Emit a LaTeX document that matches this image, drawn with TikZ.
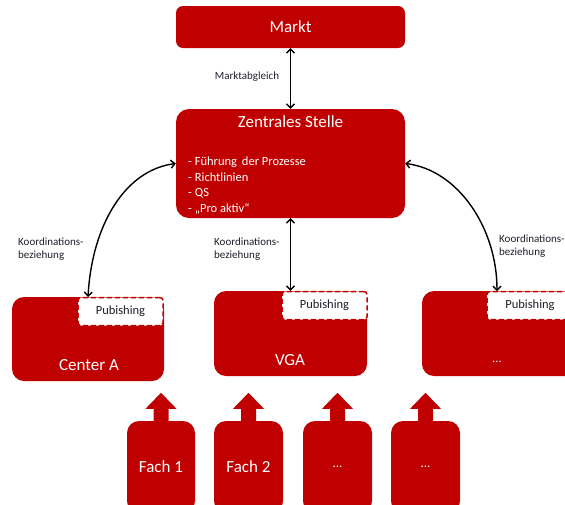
\documentclass[tikz,border=0pt]{standalone}
\usepackage{fontspec}
\setmainfont{Carlito}
\usetikzlibrary{arrows.meta}
\definecolor{dred}{HTML}{C00000}
\definecolor{lbl}{HTML}{1E1E2A}
\tikzset{
  redbox/.style={draw=none, fill=dred, text=white, inner sep=0pt},
  pubbox/.style={draw=dred, fill=white, dashed, dash pattern=on 5pt off 3pt, line width=1.5pt, rounded corners=3pt, inner sep=0pt, minimum height=28pt, text=lbl, font=\fontsize{12.5}{14}\selectfont},
  conn/.style={line width=1.4pt, {Straight Barb[length=4pt,width=8pt]}-{Straight Barb[length=4pt,width=8pt]}},
  lab/.style={text=lbl, font=\fontsize{11}{12.5}\selectfont, align=left, inner sep=0pt},
  big/.style={font=\fontsize{17}{20}\selectfont},
}
\begin{document}
\begin{tikzpicture}[x=1pt,y=-1pt]
\useasboundingbox (0,0) rectangle (565,504);
\clip (0,0) rectangle (565,504);
% top
\node[redbox, rounded corners=7pt, minimum width=229pt, minimum height=42pt, big] (markt) at (290.5,27) {Markt};
\node[redbox, rounded corners=13pt, minimum width=229pt, minimum height=109pt] (zs) at (290.5,163.5) {};
\node[text=white, big, inner sep=0pt] (zstitle) at (290.5,122) {Zentrales Stelle};
\node[text=white, font=\fontsize{12.5}{15.5}\selectfont, align=left, inner sep=0pt, anchor=west] (zslist) at (188,185.5) {- Führung\, der Prozesse\\- Richtlinien\\- QS\\- „Pro aktiv“};
% middle boxes
\node[redbox, rounded corners=12pt, minimum width=152pt, minimum height=84pt] (ca) at (88,339) {};
\node[pubbox, minimum width=85pt] (pubA) at (120.5,311.5) {Pubishing};
\node[text=white, big, inner sep=0pt] (caT) at (89,365) {Center A};

\node[redbox, rounded corners=12pt, minimum width=153pt, minimum height=85pt] (vga) at (290.5,333.5) {};
\node[pubbox, minimum width=85pt] (pubV) at (324.5,305.5) {Pubishing};
\node[text=white, big, inner sep=0pt] (vgaT) at (290,360) {VGA};

\node[redbox, rounded corners=12pt, minimum width=178pt, minimum height=85pt] (rb) at (511,333.5) {};
\node[pubbox, minimum width=86pt] (pubR) at (530,305.5) {Pubishing};
\node[text=white, font=\fontsize{12}{14}\selectfont, inner sep=0pt] (rbT) at (497,362) {...};
\coordinate (rtip) at (497,291);
\coordinate (ltip) at (88,297);

% connectors
\draw[conn] (markt.south) -- (zs.north);
\node[lab] (l0) at (247,77) {Marktabgleich};
\draw[conn] (zs.south) -- (vga.north);
\draw[conn] (zs.west) .. controls (125,170) and (92,225) .. (ltip);
\draw[conn] (zs.east) .. controls (458,170) and (497,228) .. (rtip);
\node[lab, anchor=west] (l1) at (18,249) {Koordinations-\\beziehung};
\node[lab, anchor=west] (l2) at (214,249) {Koordinations-\\beziehung};
\node[lab, anchor=west] (l3) at (499,246) {Koordinations-\\beziehung};

% bottom boxes
\node[redbox, rounded corners=12pt, minimum width=68pt, minimum height=92pt, big] (f1) at (161,467) {Fach 1};
\node[redbox, rounded corners=12pt, minimum width=69pt, minimum height=92pt, big] (f2) at (248.5,467) {Fach 2};
\node[redbox, rounded corners=12pt, minimum width=69pt, minimum height=92pt, font=\fontsize{13}{14}\selectfont] (f3) at (337.5,467) {...};
\node[redbox, rounded corners=12pt, minimum width=69pt, minimum height=92pt, font=\fontsize{13}{14}\selectfont] (f4) at (425.5,467) {...};
\foreach \n in {f1,f2,f3,f4}{
  \fill[dred] (\n.north) ++(-7.5,1) -- ++(0,-13) -- ++(-8,0) -- ++(15.5,-16) -- ++(15.5,16) -- ++(-8,0) -- ++(0,13) -- cycle;
}
\end{tikzpicture}
\end{document}
